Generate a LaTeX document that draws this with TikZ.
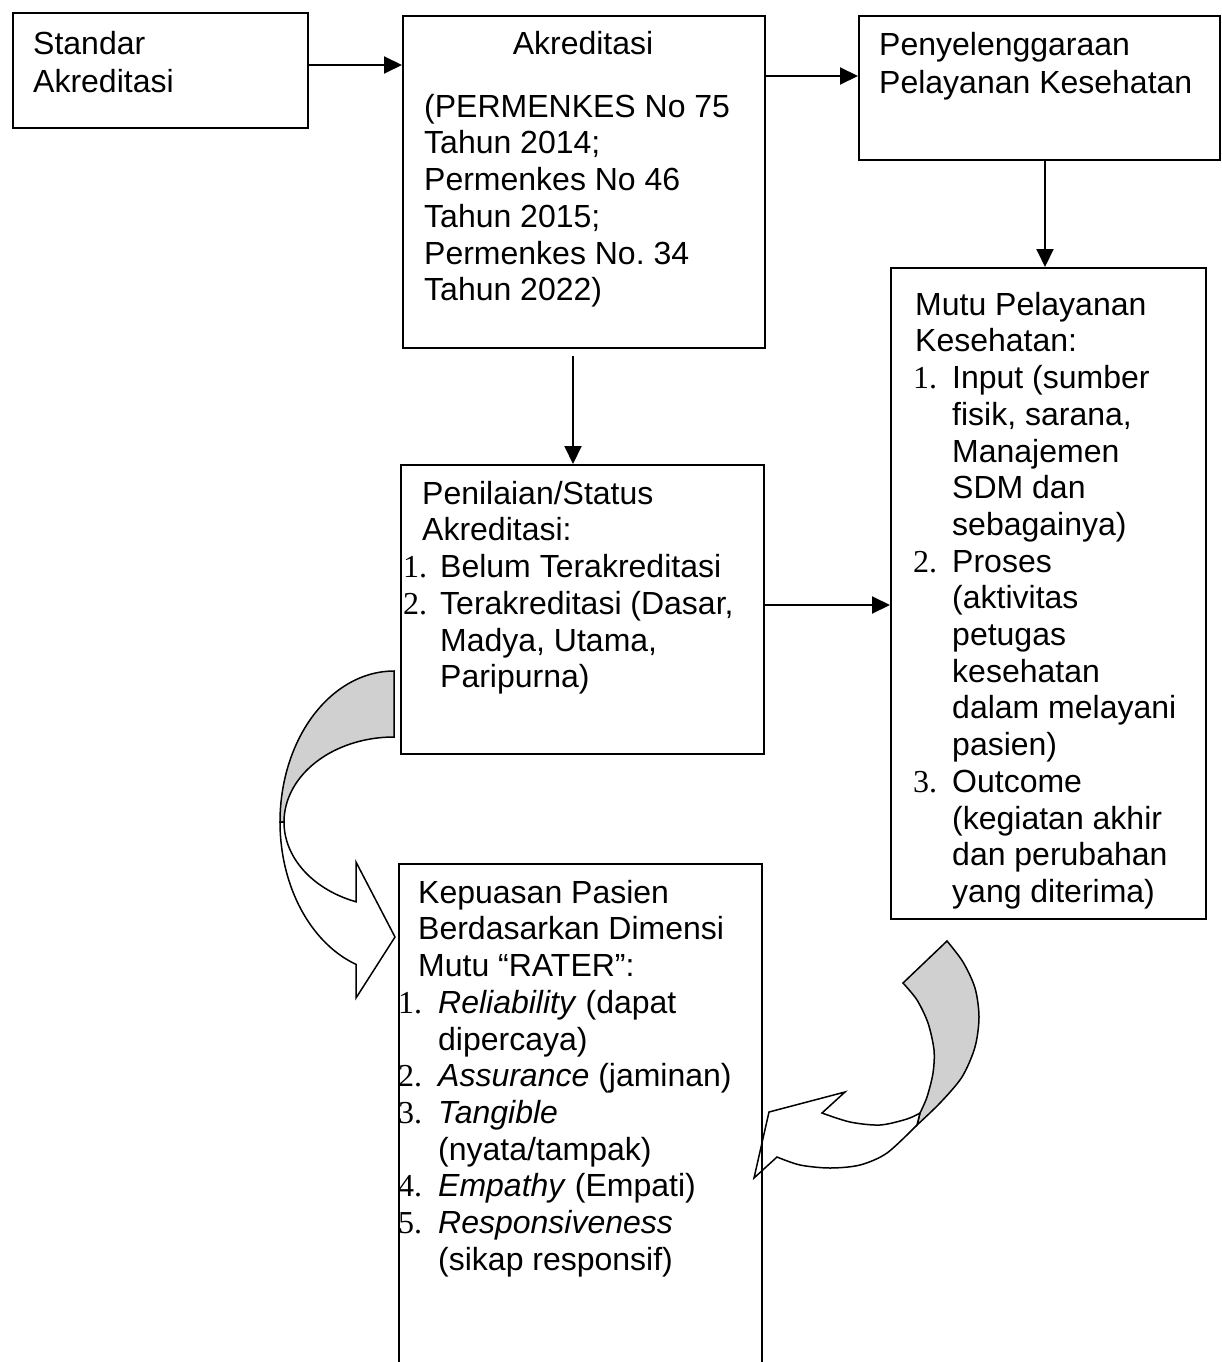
\documentclass[tikz,border=0pt]{standalone}
\usepackage{fontspec}
\setmainfont{Liberation Sans}
\newfontfamily\numfont{Liberation Serif}
\usetikzlibrary{arrows.meta}
\definecolor{backgray}{RGB}{208,208,208}
\newcommand\nm[2]{\makebox[#1][l]{\numfont #2}}
\newcommand\fl{\rule{0pt}{26pt}}
\begin{document}
\begin{tikzpicture}[x=1pt,y=-1pt,
  box/.style={draw, line width=2pt, rectangle, inner sep=0pt, anchor=north west},
  txt/.style={anchor=north west, inner sep=0pt, align=left, font=\fontsize{32}{36.7}\selectfont},
  txtb/.style={txt, font=\fontsize{32}{38.5}\selectfont},
  conn/.style={line width=2pt, -{Triangle[length=18pt,width=17pt]}},
  curv/.style={line width=1.5pt, line join=miter}]
\useasboundingbox (0,0) rectangle (1222,1362);
\clip (0,0) rectangle (1222,1362);

% curved block arrows
\filldraw[curv, fill=backgray]
  plot[domain=270:180, samples=50] ({394+114*cos(\x)},{822+151*sin(\x)})
  -- plot[domain=180:270, samples=50] ({394+110*cos(\x)},{822+85*sin(\x)}) -- cycle;
\filldraw[curv, fill=white]
  plot[domain=180:109.47, samples=50] ({394+114*cos(\x)},{822+151*sin(\x)})
  -- (356,998) -- (395,937) -- (356,862)
  -- plot[domain=110.2:180, samples=50] ({394+110*cos(\x)},{822+85*sin(\x)}) -- cycle;

\filldraw[curv, fill=backgray]
  plot[smooth] coordinates {(947,941) (963,962) (975,988) (979,1017) (975,1047) (962,1077) (940,1103) (917,1125)}
  -- (920,1113)
  -- plot[smooth] coordinates {(920,1113) (927,1097) (933,1073) (934,1050) (928,1023) (917,1000) (903,983)}
  -- cycle;
\filldraw[curv, fill=white]
  plot[smooth] coordinates {(917,1125) (887,1153) (860,1165) (830,1168) (800,1165) (777,1157)}
  -- (754,1178) -- (769,1112) -- (845,1092) -- (822,1113)
  -- plot[smooth] coordinates {(822,1113) (850,1122) (880,1125) (907,1119) (920,1113)}
  -- cycle;

% boxes
\node[box, minimum width=295pt, minimum height=115pt] (std) at (12,12) {};
\node[box, minimum width=362pt, minimum height=332pt] (akr) at (402,15) {};
\node[box, minimum width=361pt, minimum height=144pt] (pyl) at (858,15) {};
\node[box, minimum width=315pt, minimum height=651pt] (mutu) at (890,267) {};
\node[box, minimum width=363pt, minimum height=289pt] (pen) at (400,464) {};
\node[box, minimum width=363pt, minimum height=560pt] (kep) at (398,863) {};

% texts
\node[txtb] (tstd) at (33,28) {\fl Standar\\Akreditasi};
\node[txt, anchor=north] (takr1) at (583,28) {\fl Akreditasi};
\node[txt] (takr2) at (424,91) {\fl (PERMENKES No 75\\Tahun 2014;\\Permenkes No 46\\Tahun 2015;\\Permenkes No.\ 34\\Tahun 2022)};
\node[txtb] (tpyl) at (879,29) {\fl Penyelenggaraan\\Pelayanan Kesehatan};
\node[txt] (tmutu) at (913,289) {\fl\hspace*{2pt}Mutu Pelayanan\\
  \hspace*{2pt}Kesehatan:\\
  \nm{39pt}{1.}Input (sumber\\
  \hspace*{39pt}fisik, sarana,\\
  \hspace*{39pt}Manajemen\\
  \hspace*{39pt}SDM dan\\
  \hspace*{39pt}sebagainya)\\
  \nm{39pt}{2.}Proses\\
  \hspace*{39pt}(aktivitas\\
  \hspace*{39pt}petugas\\
  \hspace*{39pt}kesehatan\\
  \hspace*{39pt}dalam melayani\\
  \hspace*{39pt}pasien)\\
  \nm{39pt}{3.}Outcome\\
  \hspace*{39pt}(kegiatan akhir\\
  \hspace*{39pt}dan perubahan\\
  \hspace*{39pt}yang diterima)};
\node[txt] (tpen) at (403,478) {\fl\hspace*{19pt}Penilaian/Status\\
  \hspace*{19pt}Akreditasi:\\
  \nm{37pt}{1.}Belum Terakreditasi\\
  \nm{37pt}{2.}Terakreditasi (Dasar,\\
  \hspace*{37pt}Madya, Utama,\\
  \hspace*{37pt}Paripurna)};
\node[txt] (tkep) at (398,877) {\fl\hspace*{20pt}Kepuasan Pasien\\
  \hspace*{20pt}Berdasarkan Dimensi\\
  \hspace*{20pt}Mutu “RATER”:\\
  \nm{40pt}{1.}\textit{Reliability} (dapat\\
  \hspace*{40pt}dipercaya)\\
  \nm{40pt}{2.}\textit{Assurance} (jaminan)\\
  \nm{40pt}{3.}\textit{Tangible}\\
  \hspace*{40pt}(nyata/tampak)\\
  \nm{40pt}{4.}\textit{Empathy} (Empati)\\
  \nm{40pt}{5.}\textit{Responsiveness}\\
  \hspace*{40pt}(sikap responsif)};

% connectors
\coordinate (y1) at (0,65);
\coordinate (y2) at (0,76);
\coordinate (x3) at (1045,0);
\coordinate (a4) at (573,356);
\coordinate (y5) at (0,605);
\draw[conn] (std.east |- y1) -- (akr.west |- y1);
\draw[conn] (akr.east |- y2) -- (pyl.west |- y2);
\draw[conn] (pyl.south -| x3) -- (mutu.north -| x3);
\draw[conn] (a4) -- (pen.north -| a4);
\draw[conn] (pen.east |- y5) -- (mutu.west |- y5);
\end{tikzpicture}
\end{document}
